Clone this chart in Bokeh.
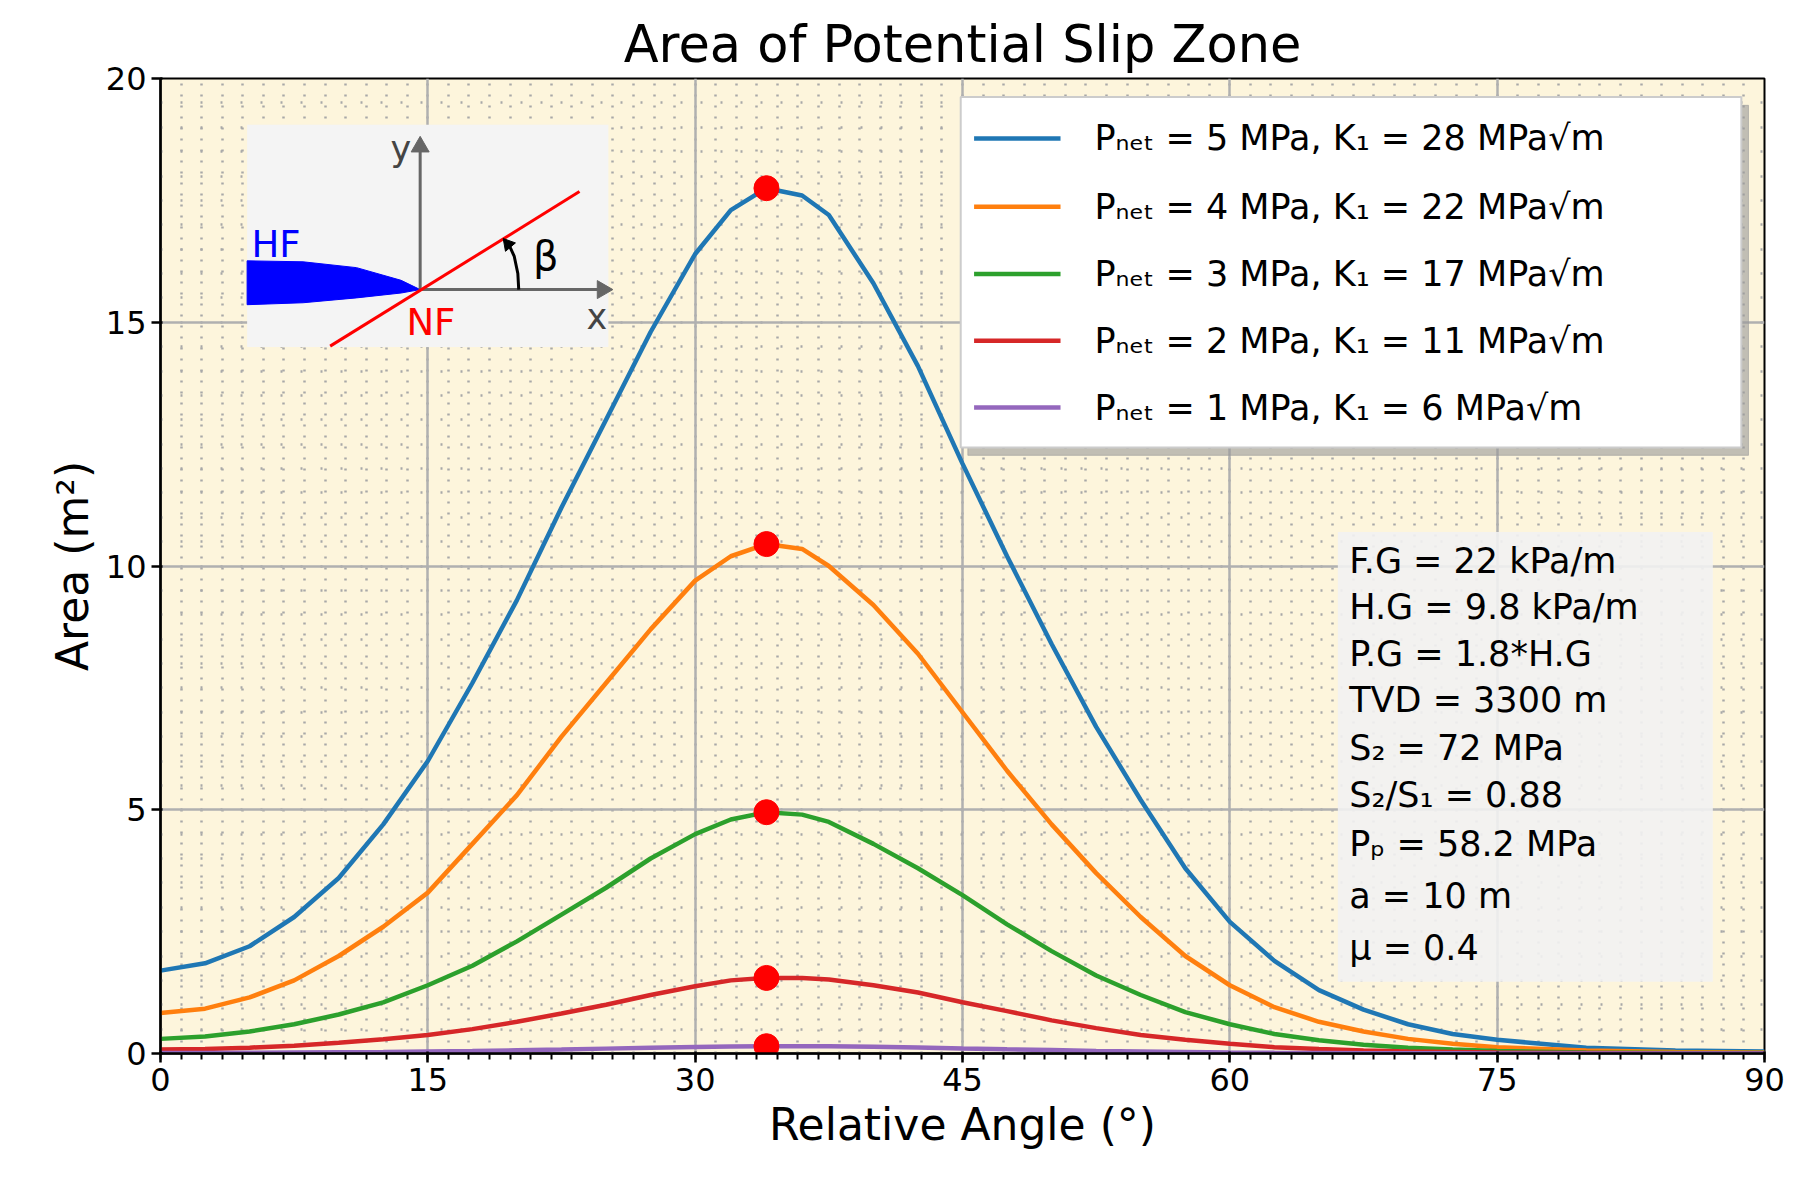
from bokeh.plotting import figure
from bokeh.models import Range1d, FixedTicker
from bokeh.core.properties import value
from bokeh.embed import file_html
from bokeh.resources import INLINE

angle = [0, 2.5, 5, 7.5, 10, 12.5, 15, 17.5, 20, 22.5, 25, 27.5, 30, 32, 34, 36, 37.5, 40,
         42.5, 45, 47.5, 50, 52.5, 55, 57.5, 60, 62.5, 65, 67.5, 70, 72.5, 75, 80, 85, 90]
area5 = [1.7, 1.85, 2.2, 2.8, 3.6, 4.7, 6.0, 7.6, 9.3, 11.2, 13.0, 14.8, 16.4, 17.3, 17.75, 17.6, 17.2, 15.8,
         14.1, 12.1, 10.2, 8.4, 6.7, 5.2, 3.8, 2.7, 1.9, 1.3, 0.9, 0.6, 0.4, 0.28, 0.12, 0.06, 0.04]
area4 = [0.83, 0.92, 1.15, 1.5, 2.0, 2.6, 3.3, 4.3, 5.3, 6.5, 7.6, 8.7, 9.7, 10.2, 10.45, 10.35, 10.0, 9.2,
         8.2, 7.0, 5.8, 4.7, 3.7, 2.8, 2.0, 1.4, 0.95, 0.65, 0.45, 0.3, 0.2, 0.13, 0.06, 0.03, 0.02]
area3 = [0.3, 0.35, 0.45, 0.6, 0.8, 1.05, 1.4, 1.8, 2.3, 2.85, 3.4, 4.0, 4.5, 4.8, 4.95, 4.9, 4.75, 4.3,
         3.8, 3.25, 2.65, 2.1, 1.6, 1.2, 0.85, 0.6, 0.4, 0.27, 0.18, 0.12, 0.08, 0.05, 0.02, 0.01, 0.01]
area2 = [0.08, 0.09, 0.12, 0.16, 0.22, 0.29, 0.38, 0.5, 0.65, 0.82, 1.0, 1.2, 1.38, 1.5, 1.55, 1.55, 1.52, 1.4,
         1.25, 1.05, 0.87, 0.68, 0.52, 0.38, 0.28, 0.2, 0.13, 0.09, 0.06, 0.04, 0.03, 0.02, 0.01, 0.0, 0.0]
area1 = [0.01, 0.01, 0.015, 0.02, 0.025, 0.03, 0.04, 0.05, 0.065, 0.08, 0.1, 0.12, 0.135, 0.145, 0.15, 0.15, 0.15, 0.14,
         0.125, 0.105, 0.087, 0.07, 0.05, 0.04, 0.03, 0.02, 0.013, 0.01, 0.006, 0.005, 0.003, 0.0, 0.0, 0.0, 0.0]
peak_angle = 34
series = [area5, area4, area3, area2, area1]
colors = ["#1f77b4", "#ff7f0e", "#2ca02c", "#d62728", "#9467bd"]
labels = [
    "Pₙₑₜ = 5 MPa, K₁ = 28 MPa√m",
    "Pₙₑₜ = 4 MPa, K₁ = 22 MPa√m",
    "Pₙₑₜ = 3 MPa, K₁ = 17 MPa√m",
    "Pₙₑₜ = 2 MPa, K₁ = 11 MPa√m",
    "Pₙₑₜ = 1 MPa, K₁ = 6 MPa√m",
]
params = ["F.G = 22 kPa/m", "H.G = 9.8 kPa/m", "P.G  = 1.8*H.G", "TVD = 3300 m",
          "S₂ = 72 MPa", "S₂/S₁ = 0.88", "Pₚ = 58.2 MPa", "a = 10 m", "μ = 0.4"]

FONT = value("DejaVu Sans")

p = figure(frame_width=1604, frame_height=975, min_border_left=160, min_border_right=25,
           min_border_top=78, min_border_bottom=120, output_backend="svg",
           toolbar_location=None, x_range=Range1d(0, 90), y_range=Range1d(0, 20),
           title="Area of Potential Slip Zone")
p.title.text_font = "DejaVu Sans"
p.title.text_font_size = "51px"
p.title.text_font_style = "normal"
p.title.text_color = "black"
p.title.align = "center"
p.background_fill_color = "#fdf5dc"
p.outline_line_color = "black"
p.outline_line_width = 2

p.xaxis.ticker = FixedTicker(ticks=[0, 15, 30, 45, 60, 75, 90],
                             minor_ticks=[i * 15 / 13 for i in range(79)])
p.yaxis.ticker = FixedTicker(ticks=[0, 5, 10, 15, 20],
                             minor_ticks=[i * 0.5 for i in range(41)])
p.xaxis.axis_label = "Relative Angle (°)"
p.yaxis.axis_label = "Area (m²)"
for ax in (p.xaxis, p.yaxis):
    ax.axis_label_text_font = "DejaVu Sans"
    ax.axis_label_text_font_size = "44px"
    ax.axis_label_text_font_style = "normal"
    ax.axis_label_text_color = "black"
    ax.major_label_text_font = "DejaVu Sans"
    ax.major_label_text_font_size = "32px"
    ax.major_label_text_color = "black"
    ax.axis_line_width = 2.5
    ax.major_tick_line_width = 2.5
    ax.major_tick_out = 9
    ax.minor_tick_out = 6
    ax.minor_tick_line_width = 2
p.yaxis.minor_tick_line_color = None
for g in (p.xgrid, p.ygrid):
    g.grid_line_color = "#b0b0b0"
    g.grid_line_width = 2.5
    g.minor_grid_line_color = "#a8a8a8"
    g.minor_grid_line_dash = "2 9"
    g.minor_grid_line_width = 2.5
p.ygrid.minor_grid_line_dash = "2 18"

for ys, c in zip(series, colors):
    p.line(angle, ys, line_color=c, line_width=4.5)
    p.scatter([peak_angle], [ys[angle.index(peak_angle)]], size=25, color="red")

# legend box
p.quad(left=45.3, right=89.1, top=19.45, bottom=12.27, color="#999999", alpha=0.6)
p.quad(left=44.9, right=88.7, top=19.62, bottom=12.43, fill_color="white",
       line_color="#cccccc", line_width=2)
ly = [18.77, 17.37, 15.99, 14.62, 13.25]
for yy, c, lab in zip(ly, colors, labels):
    p.line([45.65, 50.5], [yy, yy], line_color=c, line_width=4.5)
    p.text([52.4], [yy], text=[lab], text_font=FONT, text_font_size="35px",
           text_baseline="middle")

# parameter box
p.quad(left=66.06, right=87.1, top=10.7, bottom=1.47, fill_color="#f2f2f2",
       fill_alpha=0.9, line_color=None)
py = [10.1, 9.15, 8.2, 7.26, 6.27, 5.3, 4.3, 3.24, 2.17]
for yy, t in zip(py, params):
    p.text([66.7], [yy], text=[t], text_font=FONT, text_font_size="35px",
           text_baseline="middle")

# inset sketch
p.quad(left=4.86, right=25.13, top=19.05, bottom=14.49, fill_color="#f4f4f4",
       line_color=None)
p.patch([4.86, 8.0, 11.0, 13.5, 14.57, 13.5, 11.0, 8.0, 4.86],
        [16.26, 16.24, 16.12, 15.86, 15.67, 15.6, 15.5, 15.4, 15.36], color="blue")
p.line([14.57, 14.57], [15.67, 18.5], line_color="#666666", line_width=3)
p.line([14.57, 24.6], [15.67, 15.67], line_color="#666666", line_width=3)
p.scatter([14.57], [18.6], marker="triangle", size=18, color="#666666")
p.scatter([24.8], [15.67], marker="triangle", angle=-1.5708, size=18, color="#666666")
p.line([9.52, 23.51], [14.51, 17.68], line_color="red", line_width=3)
p.line([20.1, 20.05, 19.85, 19.6], [15.67, 16.0, 16.35, 16.55], line_color="black", line_width=3)
p.scatter([19.5], [16.6], marker="triangle", angle=0.7, size=13, color="black")
p.text([5.1], [16.6], text=["HF"], text_font=FONT, text_font_size="37px",
       text_color="blue", text_baseline="middle")
p.text([13.8], [15.0], text=["NF"], text_font=FONT, text_font_size="37px",
       text_color="red", text_baseline="middle")
p.text([12.9], [18.55], text=["y"], text_font=FONT, text_font_size="35px",
       text_color="#444444", text_baseline="middle")
p.text([23.9], [15.1], text=["x"], text_font=FONT, text_font_size="35px",
       text_color="#444444", text_baseline="middle")
p.text([20.9], [16.35], text=["β"], text_font=FONT, text_font_size="40px",
       text_baseline="middle")

open("out.html", "w").write(file_html(p, INLINE))
